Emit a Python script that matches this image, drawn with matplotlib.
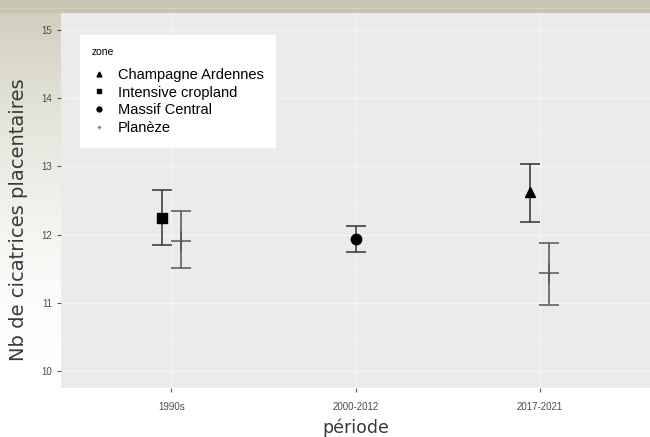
import numpy as np
import matplotlib
matplotlib.use('Agg')
import matplotlib.pyplot as plt
from matplotlib.lines import Line2D

# periodes (axe x discret)
periodes = ['1990s', '2000-2012', '2017-2021']

# moyennes et intervalles, par zone
zones = ['Champagne Ardennes', 'Intensive cropland', 'Massif Central', 'Planèze']
marqueurs = ['^', 's', 'o', '+']

ca_per = [2]
ca_moy = [12.63]
ca_bas = [12.19]
ca_haut = [13.03]

ic_per = [0]
ic_moy = [12.25]
ic_bas = [11.84]
ic_haut = [12.66]

mc_per = [1]
mc_moy = [11.93]
mc_bas = [11.74]
mc_haut = [12.12]

pl_per = [0, 2]
pl_moy = [11.91, 11.43]
pl_bas = [11.51, 10.96]
pl_haut = [12.34, 11.88]

# decalage (dodge) des groupes
decal = {'Champagne Ardennes': -0.05, 'Intensive cropland': -0.05,
         'Massif Central': 0.0, 'Planèze': 0.05}

donnees = [
    ('Champagne Ardennes', ca_per, ca_moy, ca_bas, ca_haut),
    ('Intensive cropland', ic_per, ic_moy, ic_bas, ic_haut),
    ('Massif Central', mc_per, mc_moy, mc_bas, mc_haut),
    ('Planèze', pl_per, pl_moy, pl_bas, pl_haut),
]

plt.rcParams['font.family'] = ['Liberation Sans', 'DejaVu Sans']

fig = plt.figure(figsize=(6.5, 4.37), dpi=100)
fig.patch.set_facecolor('white')

# fond de diapo (bande kaki en haut et a gauche)
W, H = 650, 437
fond = np.ones((H, W, 3))
kaki = np.array([198, 197, 175]) / 255
yy = np.arange(H)[:, None]
xx = np.arange(W)[None, :]
alpha_gauche = np.clip(1 - yy / 360, 0, 1) ** 1.5 * (xx < 61) * 0.85
alpha = np.maximum(alpha_gauche, (yy < 13) * 1.0)
for c in range(3):
    fond[:, :, c] = 1 - alpha + alpha * kaki[c]
fond[8, :, :] = np.minimum(fond[8, :, :] + 0.05, 1)
ax_fond = fig.add_axes([0, 0, 1, 1], zorder=-10)
ax_fond.imshow(fond, aspect='auto', extent=[0, 1, 0, 1])
ax_fond.axis('off')

ax = fig.add_axes([61 / 650, 1 - 388 / 437, 1 - 61 / 650, (388 - 13) / 437])
ax.set_facecolor('#EBEBEB')
for s in ax.spines.values():
    s.set_visible(False)

ax.set_xlim(-0.6, 2.6)
ax.set_ylim(9.75, 15.25)
ax.set_yticks([10, 11, 12, 13, 14, 15])
ax.set_yticks(np.arange(10.5, 15, 1.0), minor=True)
ax.set_xticks(range(len(periodes)))
ax.set_xticklabels(periodes)
ax.grid(True, which='major', color='#F6F6F6', linewidth=0.9)
ax.grid(True, which='minor', axis='y', color='#F2F2F2', linewidth=0.5)
ax.set_axisbelow(True)
ax.tick_params(which='major', length=3, color='#555555', labelsize=7, labelcolor='#4D4D4D')
ax.tick_params(axis='x', pad=7)
ax.tick_params(which='minor', length=0)

for (zone, per, moy, bas, haut), m in zip(donnees, marqueurs):
    x = np.array(per) + decal[zone]
    moy = np.array(moy)
    coul = '#555555' if m == '+' else '#333333'
    ax.errorbar(x, moy, yerr=[moy - np.array(bas), np.array(haut) - moy],
                fmt='none', ecolor=coul, elinewidth=1.1, capsize=7, capthick=1.1)
    if m == '+':
        ax.plot(x, moy, linestyle='none', marker=m, markersize=15, color='#555555', mew=1.1)
    else:
        ax.plot(x, moy, linestyle='none', marker=m, markersize=7.5, color='black')

ax.set_xlabel('période', fontsize=12.5, color='#3A3A3A', family=['DejaVu Sans'], labelpad=5)
ax.set_ylabel('Nb de cicatrices placentaires', fontsize=14, color='#3A3A3A',
              family=['DejaVu Sans'], labelpad=5)
ax.yaxis.set_label_coords(-0.056, 0.45)

poignees = [Line2D([], [], linestyle='none', marker=m, markersize=3.5,
                   color='black' if m != '+' else '#888888') for m in marqueurs]
leg = ax.legend(poignees, zones, title='zone', loc='upper left',
                bbox_to_anchor=(0.032, 0.941), borderaxespad=0, fontsize=10.5,
                title_fontsize=7.5, frameon=True, fancybox=False, framealpha=1,
                edgecolor='white', handlelength=1, handletextpad=0.8,
                labelspacing=0.25, borderpad=0.8)
leg._legend_box.align = 'left'
leg._legend_box.sep = 8

fig.savefig('out.png', dpi=100)
